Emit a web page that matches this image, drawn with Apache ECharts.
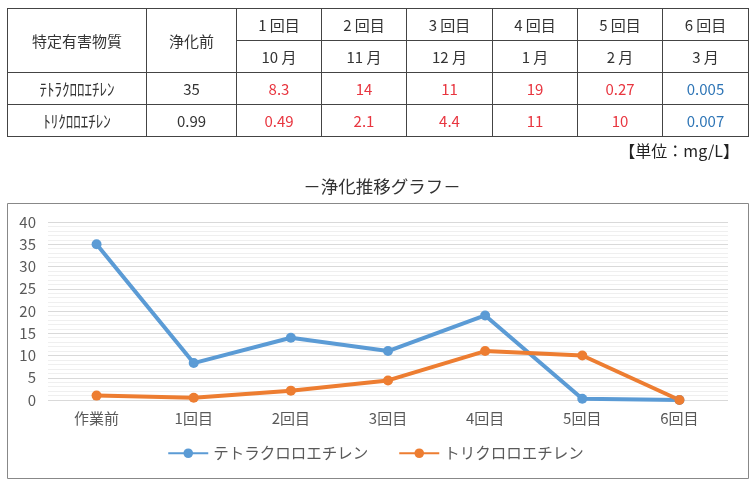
<!DOCTYPE html>
<html><head><meta charset="utf-8">
<script src="https://cdn.jsdelivr.net/npm/echarts@6/dist/echarts.min.js"></script>
<style>
html,body{margin:0;padding:0;background:#fff;width:751px;height:482px;overflow:hidden;font-family:"Noto Sans CJK JP","Noto Sans",sans-serif;}
#chart{position:absolute;left:0;top:0;width:751px;height:482px;}
table{position:absolute;left:7px;top:8px;border-collapse:collapse;font-size:15px;color:#333;table-layout:fixed;}
td{border:1px solid #444;text-align:center;padding:0;height:31px;line-height:31px;}
.r{color:#e8353f}.b{color:#2e75b6}
.name{font-size:15px;}
.name span{display:inline-block;transform:scaleY(1.15);}
</style></head><body>
<div id="chart"></div>
<table id="tbl"></table>
<script>
const categories = ['作業前','1回目','2回目','3回目','4回目','5回目','6回目'];
const tetra = [35, 8.3, 14, 11, 19, 0.27, 0.005];
const tri = [0.99, 0.49, 2.1, 4.4, 11, 10, 0.007];
const seriesNames = ['テトラクロロエチレン','トリクロロエチレン'];
const tableNames = ['ﾃﾄﾗｸﾛﾛｴﾁﾚﾝ','ﾄﾘｸﾛﾛｴﾁﾚﾝ'];
const rounds = ['1 回目','2 回目','3 回目','4 回目','5 回目','6 回目'];
const months = ['10 月','11 月','12 月','1 月','2 月','3 月'];
const tetraText = ['35','8.3','14','11','19','0.27','0.005'];
const triText = ['0.99','0.49','2.1','4.4','11','10','0.007'];
const colWidths = [139, 90, 85, 85, 86, 85, 85, 86];

// table
const tbl = document.getElementById('tbl');
let html = '<colgroup>' + colWidths.map(w => `<col style="width:${w}px">`).join('') + '</colgroup>';
html += '<tr><td rowspan="2">特定有害物質</td><td rowspan="2">浄化前</td>' + rounds.map(r => `<td>${r}</td>`).join('') + '</tr>';
html += '<tr>' + months.map(m => `<td>${m}</td>`).join('') + '</tr>';
[tetraText, triText].forEach((row, i) => {
  html += `<tr><td class="name"><span>${tableNames[i]}</span></td>` + row.map((v, j) => {
    const cls = j === 0 ? '' : (j === 6 ? 'b' : 'r');
    return `<td class="${cls}">${v}</td>`;
  }).join('') + '</tr>';
});
tbl.innerHTML = html;

const chart = echarts.init(document.getElementById('chart'), null, {renderer:'canvas'});
chart.setOption({
  animation:false,
  textStyle:{fontFamily:'"Noto Sans CJK JP","Noto Sans",sans-serif'},
  title:{text:'－浄化推移グラフ－', left:377, textAlign:'center', top:173, textStyle:{fontSize:17.5, fontWeight:'normal', color:'#333'}},
  graphic:[
    {type:'rect', shape:{x:7.5, y:203.5, width:741, height:275}, style:{fill:'none', stroke:'#888', lineWidth:1}},
    {type:'text', right:12, top:143, style:{text:'【単位：mg/L】', fontSize:16, fill:'#222', fontFamily:'"Noto Sans CJK JP",sans-serif'}}
  ],
  grid:{left:48, right:23, top:222, bottom:82},
  legend:{bottom:16, left:'center', itemGap:30, itemWidth:40, itemHeight:12,
    textStyle:{fontSize:15.5, color:'#595959'}, data:seriesNames},
  xAxis:{type:'category', data:categories, boundaryGap:true,
    axisLine:{show:false}, axisTick:{show:false},
    axisLabel:{fontSize:15, color:'#595959', margin:11}},
  yAxis:{type:'value', min:0, max:40, interval:5,
    axisLabel:{fontSize:15, color:'#595959', margin:12},
    splitLine:{lineStyle:{color:'#d9d9d9'}},
    minorTick:{show:false, splitNumber:5},
    minorSplitLine:{show:true, lineStyle:{color:'#efefef'}}},
  series:[
    {name:seriesNames[0], type:'line', data:tetra, symbol:'circle', symbolSize:10,
     lineStyle:{width:4, color:'#5b9bd5'}, itemStyle:{color:'#5b9bd5'}},
    {name:seriesNames[1], type:'line', data:tri, symbol:'circle', symbolSize:10,
     lineStyle:{width:4, color:'#ed7d31'}, itemStyle:{color:'#ed7d31'}}
  ]
});
</script>
</body></html>
